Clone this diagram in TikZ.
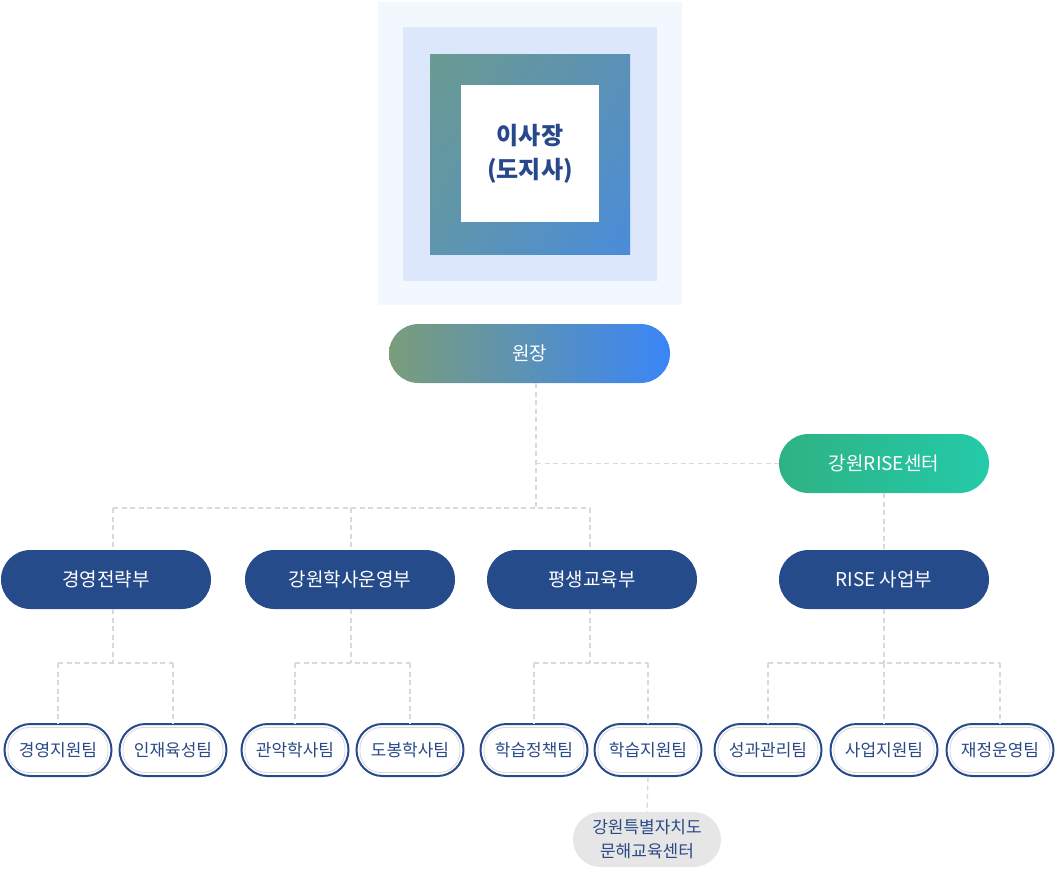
\documentclass[tikz,border=0pt]{standalone}
\usepackage{fontspec}
\usetikzlibrary{shadings}
\setmainfont{Noto Sans CJK KR}
\definecolor{outerbg}{HTML}{F3F7FE}
\definecolor{midbg}{HTML}{DCE7FC}
\definecolor{gTL}{HTML}{6A9A90}
\definecolor{gTR}{HTML}{5B91B6}
\definecolor{gBL}{HTML}{5F96AC}
\definecolor{gBR}{HTML}{4A8CDB}
\definecolor{chairtext}{HTML}{27488A}
\definecolor{wL}{HTML}{7A9D7A}
\definecolor{wR}{HTML}{3A86F7}
\definecolor{rL}{HTML}{2EB283}
\definecolor{rR}{HTML}{24CAAA}
\definecolor{navy}{HTML}{264B8B}
\definecolor{teamtext}{HTML}{2B4A86}
\definecolor{dashgray}{HTML}{D9D9D9}
\definecolor{innerline}{HTML}{DCDCDC}
\definecolor{grayfill}{HTML}{E6E6E6}
\tikzset{
  pill/.style={rectangle, rounded corners=29.5pt, minimum width=210pt, minimum height=59pt,
    inner sep=0pt, text=white, font=\fontsize{19}{22}\selectfont},
  dept/.style={pill, fill=navy},
  team/.style={rectangle, rounded corners=26pt, minimum width=107pt, minimum height=52pt,
    draw=navy, line width=2pt, fill=white, text=teamtext, inner sep=0pt,
    font=\fontsize{17}{20}\selectfont},
  teaminner/.style={draw=innerline, line width=0.9pt, rounded corners=21pt},
  conn/.style={draw=dashgray, line width=1.4pt, dash pattern=on 5pt off 3.5pt},
}
\newcommand{\teamnode}[3]{%
  \node[team] (#1) at (#2,750) {#3};
  \draw[teaminner] ([xshift=4.5pt,yshift=-4.5pt]#1.north west) rectangle ([xshift=-4.5pt,yshift=4.5pt]#1.south east);
}
\begin{document}
\begin{tikzpicture}[x=1pt,y=-1pt]
\useasboundingbox (0,0) rectangle (1060,871);
% chairman block
\node[fill=outerbg, minimum width=304pt, minimum height=303pt, inner sep=0pt] (bg1) at (530,153.5) {};
\node[fill=midbg, minimum width=254pt, minimum height=254pt, inner sep=0pt] (bg2) at (530,154) {};
\node[minimum width=200pt, minimum height=200pt, inner sep=0pt, shade,
  upper left=gTL, upper right=gTR, lower left=gBL, lower right=gBR] (grad) at (530,154) {};
\node[fill=white, minimum width=138pt, minimum height=137pt, inner sep=0pt, align=center,
  text=chairtext, font=\bfseries\fontsize{24}{34}\selectfont] (chair) at (530,153.5) {이사장\\(도지사)};
% director
\node[pill, minimum width=281pt, left color=wL, right color=wR] (wonjang) at (529.5,353.5) {원장};
\node[pill, left color=rL, right color=rR] (center) at (884,463.5) {강원RISE센터};
% departments
\node[dept] (d1) at (106,579.5) {경영전략부};
\node[dept] (d2) at (350,579.5) {강원학사운영부};
\node[dept] (d3) at (592,579.5) {평생교육부};
\node[dept] (d4) at (884,579.5) {RISE 사업부};
% teams
\teamnode{t1}{58}{경영지원팀}
\teamnode{t2}{173}{인재육성팀}
\teamnode{t3}{295}{관악학사팀}
\teamnode{t4}{410}{도봉학사팀}
\teamnode{t5}{534}{학습정책팀}
\teamnode{t6}{648}{학습지원팀}
\teamnode{t7}{768}{성과관리팀}
\teamnode{t8}{884}{사업지원팀}
\teamnode{t9}{1000}{재정운영팀}
\node[rectangle, rounded corners=27.5pt, minimum width=148pt, minimum height=55pt, fill=grayfill,
  inner sep=0pt, align=center, text=teamtext, font=\fontsize{17}{24}\selectfont] (mh) at (647,839.5) {강원특별자치도\\문해교육센터};
% junctions
\coordinate (j0) at (536,508);
\coordinate (a1) at (113,508);
\coordinate (a2) at (351,508);
\coordinate (a3) at (590,508);
\coordinate (b1) at (113,663);
\coordinate (b2) at (351,663);
\coordinate (b3) at (590,663);
\coordinate (b4) at (884,663);
% connectors
\draw[conn] (wonjang.south -| j0) -- (j0);
\draw[conn] (j0 |- center.west) -- (center.west);
\draw[conn] (a1) -- (a3);
\draw[conn] (a1) -- (a1 |- d1.north);
\draw[conn] (a2) -- (a2 |- d2.north);
\draw[conn] (a3) -- (a3 |- d3.north);
\draw[conn] (center.south) -- (d4.north);
\draw[conn] (a1 |- d1.south) -- (b1);
\draw[conn] (a2 |- d2.south) -- (b2);
\draw[conn] (a3 |- d3.south) -- (b3);
\draw[conn] (d4.south) -- (b4);
\draw[conn] (t1.north |- b1) -- (t2.north |- b1);
\draw[conn] (t1.north |- b1) -- (t1.north);
\draw[conn] (t2.north |- b1) -- (t2.north);
\draw[conn] (t3.north |- b2) -- (t4.north |- b2);
\draw[conn] (t3.north |- b2) -- (t3.north);
\draw[conn] (t4.north |- b2) -- (t4.north);
\draw[conn] (t5.north |- b3) -- (t6.north |- b3);
\draw[conn] (t5.north |- b3) -- (t5.north);
\draw[conn] (t6.north |- b3) -- (t6.north);
\draw[conn] (t7.north |- b4) -- (t9.north |- b4);
\draw[conn] (t7.north |- b4) -- (t7.north);
\draw[conn] (t8.north |- b4) -- (t8.north);
\draw[conn] (t9.north |- b4) -- (t9.north);
\draw[conn] (t6.south) -- (mh.north);
\end{tikzpicture}
\end{document}
